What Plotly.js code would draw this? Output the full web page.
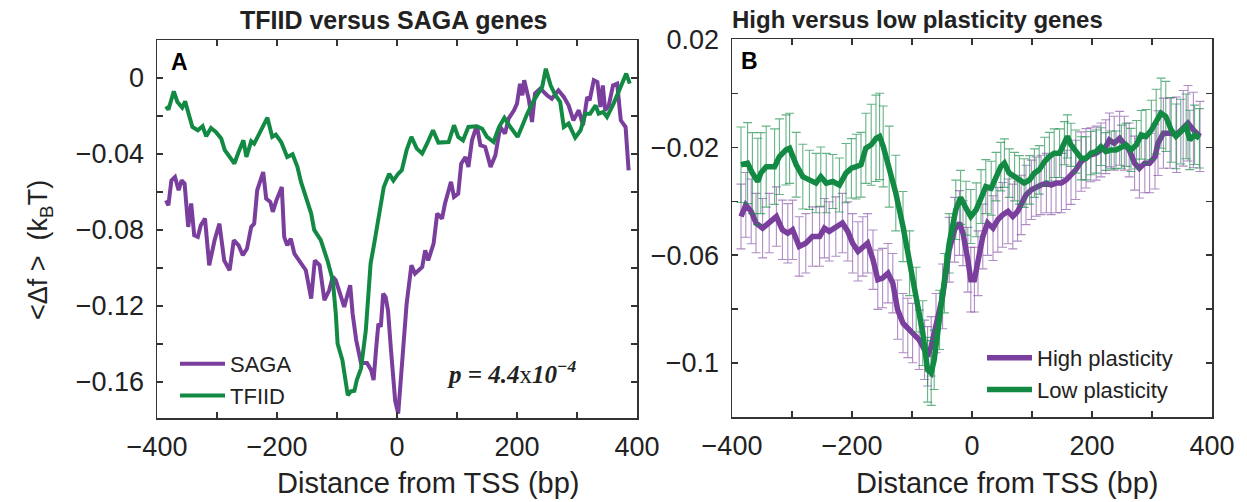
<!DOCTYPE html>
<html>
<head>
<meta charset="utf-8">
<script src="https://cdn.plot.ly/plotly-3.0.1.min.js"></script>
<style>
  html, body { margin: 0; padding: 0; background: #fff; }
  #chart { width: 1247px; height: 502px; }
</style>
</head>
<body>
<div id="chart"></div>
<script>
// ---------- Panel A: TFIID versus SAGA genes ----------
const tfiidX = [-385,-381,-372,-366,-358,-353,-349,-341,-332,-324,-318,-310,-302,-293,-287,-279,-271,-264,-256,-251,-243,-238,-233,-227,-216,-208,-202,-193,-183,-174,-166,-160,-152,-143,-138,-127,-116,-107,-102,-99,-91,-82,-77,-71,-67,-60,-52,-44,-38,-32,-22,-13,-6,2,8,16,24,33,42,50,60,69,86,95,102,110,119,133,142,150,161,170,179,189,201,208,217,228,236,242,248,256,264,272,278,286,297,306,314,322,331,336,344,350,361,372,382,388];
const tfiidY = [-0.0149,-0.0167,-0.007,-0.0126,-0.0156,-0.0123,-0.017,-0.0258,-0.0275,-0.0254,-0.0307,-0.0263,-0.0284,-0.0319,-0.038,-0.0412,-0.045,-0.039,-0.0328,-0.0416,-0.0333,-0.0346,-0.0314,-0.0272,-0.0209,-0.031,-0.0298,-0.0337,-0.0416,-0.0402,-0.0468,-0.0547,-0.0626,-0.0714,-0.080,-0.0854,-0.096,-0.1065,-0.124,-0.1398,-0.1486,-0.167,-0.165,-0.1647,-0.159,-0.153,-0.133,-0.0977,-0.0872,-0.0767,-0.0574,-0.0504,-0.054,-0.0504,-0.0486,-0.038,-0.031,-0.0372,-0.0398,-0.0346,-0.0275,-0.034,-0.0337,-0.0249,-0.031,-0.0328,-0.0258,-0.0254,-0.0267,-0.031,-0.0337,-0.0258,-0.021,-0.0258,-0.031,-0.0258,-0.0188,-0.0118,-0.0082,-0.0047,0.0049,-0.0039,-0.0091,-0.0126,-0.0258,-0.024,-0.0314,-0.0275,-0.0188,-0.0188,-0.0144,-0.0188,-0.0179,-0.0205,-0.0135,-0.0056,0.0023,-0.003];

const sagaX = [-385,-381,-376,-370,-364,-359,-354,-348,-343,-338,-332,-327,-320,-313,-304,-296,-288,-279,-272,-264,-257,-250,-243,-238,-233,-223,-218,-211,-207,-201,-192,-188,-183,-177,-171,-160,-152,-143,-137,-129,-121,-113,-107,-102,-93,-88,-82,-78,-74,-68,-60,-50,-43,-39,-35,-31,-27,-23,-19,-15,-10,-3,2,10,16,24,30,42,47,52,61,67,75,80,90,95,102,107,114,119,125,133,139,147,156,164,172,180,186,195,200,205,209,212,220,225,230,239,250,258,269,278,286,294,303,310,317,321,328,334,339,343,347,353,360,367,373,381,386];
const sagaY = [-0.0644,-0.067,-0.0539,-0.0521,-0.0591,-0.0539,-0.0556,-0.0784,-0.0661,-0.0828,-0.0837,-0.0775,-0.074,-0.0986,-0.0854,-0.0767,-0.096,-0.1012,-0.0854,-0.0881,-0.0933,-0.0898,-0.0784,-0.0767,-0.0591,-0.0495,-0.0635,-0.0653,-0.0705,-0.0644,-0.0574,-0.0837,-0.0881,-0.0846,-0.0925,-0.0977,-0.1012,-0.1161,-0.096,-0.0986,-0.117,-0.1118,-0.1047,-0.1065,-0.1153,-0.1205,-0.1135,-0.1091,-0.124,-0.138,-0.150,-0.150,-0.1539,-0.159,-0.1433,-0.1293,-0.131,-0.1135,-0.1153,-0.1223,-0.1433,-0.170,-0.1767,-0.1416,-0.119,-0.0986,-0.103,-0.0995,-0.0907,-0.096,-0.0872,-0.0714,-0.074,-0.0661,-0.0547,-0.0626,-0.0609,-0.0451,-0.0416,-0.0468,-0.0328,-0.0249,-0.0354,-0.0363,-0.0468,-0.0407,-0.0258,-0.0293,-0.0214,-0.017,-0.0135,-0.003,-0.0091,-0.0012,-0.0118,-0.0232,-0.0082,-0.0056,-0.0091,-0.0109,-0.0065,-0.01,-0.0144,-0.0223,-0.017,-0.0249,-0.01,-0.0118,-0.0012,-0.0021,-0.0153,-0.0039,-0.017,-0.0144,-0.0039,-0.003,-0.0223,-0.0258,-0.0486];

// ---------- Panel B: High versus low plasticity genes ----------
const highX = [-385,-377,-368,-360,-349,-338,-326,-316,-307,-299,-288,-277,-266,-254,-246,-238,-227,-216,-207,-199,-190,-182,-174,-165,-157,-149,-140,-132,-124,-115,-107,-99,-88,-79,-74,-68,-60,-49,-38,-29,-21,-15,-7,-2,4,10,18,26,35,43,51,60,68,76,82,90,99,107,115,124,132,140,149,157,165,173,182,190,198,207,215,223,229,237,246,254,262,271,279,288,296,305,310,319,330,341,352,360,369,380];
const highY = [-0.0457,-0.0414,-0.0438,-0.0481,-0.05,-0.0481,-0.0457,-0.0506,-0.0519,-0.0506,-0.0568,-0.0556,-0.0531,-0.0531,-0.05,-0.0512,-0.0494,-0.0481,-0.0512,-0.0556,-0.0586,-0.0568,-0.0556,-0.0617,-0.0691,-0.0685,-0.0667,-0.0704,-0.0802,-0.0852,-0.087,-0.0889,-0.0914,-0.0951,-0.0975,-0.0938,-0.0852,-0.0753,-0.058,-0.0506,-0.0481,-0.0519,-0.0617,-0.0691,-0.0691,-0.063,-0.0531,-0.0481,-0.05,-0.0469,-0.0451,-0.0438,-0.0457,-0.0438,-0.0414,-0.0377,-0.0358,-0.0346,-0.034,-0.0333,-0.034,-0.0333,-0.0333,-0.0321,-0.0302,-0.0284,-0.0253,-0.0241,-0.0228,-0.0222,-0.021,-0.0198,-0.0173,-0.0185,-0.0167,-0.0185,-0.021,-0.0259,-0.0278,-0.0259,-0.0259,-0.0235,-0.0185,-0.0148,-0.0148,-0.0154,-0.013,-0.0111,-0.0136,-0.016];
const highErr = [0.012,0.012,0.012,0.011,0.011,0.011,0.011,0.011,0.011,0.011,0.011,0.011,0.011,0.011,0.011,0.011,0.011,0.011,0.011,0.011,0.011,0.011,0.011,0.011,0.011,0.011,0.011,0.011,0.011,0.011,0.011,0.011,0.011,0.011,0.011,0.011,0.011,0.012,0.012,0.012,0.012,0.012,0.012,0.012,0.012,0.012,0.012,0.012,0.012,0.012,0.012,0.012,0.012,0.011,0.011,0.011,0.011,0.011,0.011,0.011,0.011,0.011,0.011,0.011,0.011,0.011,0.011,0.011,0.010,0.010,0.010,0.010,0.010,0.010,0.010,0.010,0.010,0.010,0.011,0.011,0.011,0.012,0.012,0.013,0.013,0.014,0.014,0.014,0.014,0.013];

const lowX = [-385,-374,-366,-357,-352,-343,-329,-321,-310,-304,-293,-282,-271,-260,-252,-243,-232,-221,-210,-201,-193,-185,-177,-168,-160,-154,-148,-138,-127,-115,-104,-93,-82,-74,-68,-63,-54,-46,-38,-27,-19,-10,-2,7,15,23,32,40,48,54,62,71,79,87,96,104,112,121,129,137,146,154,159,165,173,182,190,198,207,215,223,232,240,249,257,265,274,282,290,299,307,315,323,332,340,348,357,363,371,379];
const lowY = [-0.0265,-0.0259,-0.0296,-0.0327,-0.0296,-0.0272,-0.0272,-0.0235,-0.021,-0.0204,-0.0265,-0.0309,-0.0321,-0.0333,-0.0309,-0.0333,-0.0327,-0.034,-0.0296,-0.0278,-0.0272,-0.0265,-0.0204,-0.0191,-0.0167,-0.016,-0.0197,-0.0272,-0.037,-0.0494,-0.063,-0.0765,-0.0889,-0.1025,-0.1037,-0.0988,-0.084,-0.0704,-0.0556,-0.0432,-0.0386,-0.0426,-0.0457,-0.0432,-0.0383,-0.0346,-0.0352,-0.0309,-0.0272,-0.0259,-0.0296,-0.0309,-0.0321,-0.0333,-0.0321,-0.0296,-0.0284,-0.0253,-0.0235,-0.0222,-0.0222,-0.0185,-0.016,-0.0191,-0.0216,-0.0241,-0.0241,-0.0222,-0.0216,-0.0198,-0.0216,-0.021,-0.021,-0.0198,-0.0191,-0.021,-0.0191,-0.0154,-0.016,-0.0136,-0.0105,-0.0074,-0.0086,-0.0136,-0.016,-0.0142,-0.0123,-0.0173,-0.0154,-0.0167];
const lowErr = [0.014,0.015,0.015,0.016,0.015,0.015,0.014,0.014,0.013,0.013,0.012,0.012,0.011,0.011,0.011,0.011,0.010,0.010,0.011,0.011,0.012,0.012,0.013,0.015,0.016,0.016,0.015,0.015,0.014,0.013,0.012,0.012,0.012,0.012,0.012,0.011,0.011,0.011,0.011,0.011,0.010,0.010,0.010,0.010,0.010,0.010,0.010,0.009,0.009,0.009,0.009,0.009,0.009,0.009,0.009,0.009,0.009,0.009,0.009,0.009,0.009,0.008,0.008,0.008,0.008,0.008,0.008,0.008,0.008,0.007,0.007,0.007,0.007,0.008,0.008,0.008,0.009,0.009,0.010,0.011,0.012,0.013,0.013,0.012,0.012,0.012,0.012,0.011,0.011,0.011];

// ---------- Tick labels (labelled ticks; unlabelled minor ticks lie halfway) ----------
const xTickVals = [-400,-200,0,200,400];
const xTickText = ['\u2212400','\u2212200','0','200','400'];
const yATickVals = [-0.16,-0.12,-0.08,-0.04,0];
const yATickText = ['\u22120.16','\u22120.12','\u22120.08','\u22120.04','0'];
const yBTickVals = [-0.10,-0.06,-0.02,0.02];
const yBTickText = ['\u22120.1','\u22120.06','\u22120.02','0.02'];

const PURPLE = '#7a3f9d';
const GREEN = '#138a43';
const FONT = 'Liberation Sans, Arial, Helvetica, sans-serif';
const W = 1247, H = 502;
const px = v => v / W;
const py = v => 1 - v / H;

const traces = [
  { x: sagaX, y: sagaY, name: 'SAGA', type: 'scatter', mode: 'lines',
    line: { color: PURPLE, width: 4 }, xaxis: 'x', yaxis: 'y', legend: 'legend' },
  { x: tfiidX, y: tfiidY, name: 'TFIID', type: 'scatter', mode: 'lines',
    line: { color: GREEN, width: 4 }, xaxis: 'x', yaxis: 'y', legend: 'legend' },
  { x: highX, y: highY, name: 'High plasticity', type: 'scatter', mode: 'lines',
    line: { color: PURPLE, width: 5.5 },
    error_y: { type: 'data', array: highErr, visible: true, color: 'rgba(122,63,157,0.6)', thickness: 1.1, width: 4.5 },
    xaxis: 'x2', yaxis: 'y2', legend: 'legend2' },
  { x: lowX, y: lowY, name: 'Low plasticity', type: 'scatter', mode: 'lines',
    line: { color: GREEN, width: 5.5 },
    error_y: { type: 'data', array: lowErr, visible: true, color: 'rgba(19,138,67,0.65)', thickness: 1.1, width: 4.5 },
    xaxis: 'x2', yaxis: 'y2', legend: 'legend2' }
];

function axisBase(range, vals, text, minorStep, standoff) {
  return {
    range: range,
    tickmode: 'array', tickvals: vals, ticktext: text,
    ticks: 'inside', ticklen: 6, tickwidth: 1.3, tickcolor: '#333',
    minor: { dtick: minorStep, tick0: 0, ticks: 'inside', ticklen: 6, tickwidth: 1.3, tickcolor: '#333', showgrid: false },
    showline: true, linecolor: '#333', linewidth: 1.5, mirror: 'ticks',
    showgrid: false, zeroline: false, ticklabelstandoff: standoff,
    tickfont: { family: FONT, size: 27, color: '#222' }
  };
}

const layout = {
  width: W, height: H,
  margin: { l: 0, r: 0, t: 0, b: 0 },
  paper_bgcolor: '#fff', plot_bgcolor: '#fff',
  font: { family: FONT, color: '#222' },
  xaxis: Object.assign(axisBase([-400, 400], xTickVals, xTickText, 100, 4), { domain: [px(157), px(637)], anchor: 'y' }),
  yaxis: Object.assign(axisBase([-0.179, 0.02], yATickVals, yATickText, 0.02, 6), { domain: [py(418), py(40)], anchor: 'x' }),
  xaxis2: Object.assign(axisBase([-400, 400], xTickVals, xTickText, 100, 4), { domain: [px(732), px(1212)], anchor: 'y2' }),
  yaxis2: Object.assign(axisBase([-0.12, 0.02], yBTickVals, yBTickText, 0.02, 6), { domain: [py(417), py(39.3)], anchor: 'x2' }),
  showlegend: true,
  legend: { x: px(175), y: py(343), xanchor: 'left', yanchor: 'top', bgcolor: 'rgba(0,0,0,0)',
            font: { family: FONT, size: 22, color: '#222' }, itemwidth: 45, traceorder: 'normal' },
  legend2: { x: px(982), y: py(337), xanchor: 'left', yanchor: 'top', bgcolor: 'rgba(0,0,0,0)',
             font: { family: FONT, size: 22, color: '#222' }, itemwidth: 45, traceorder: 'normal' },
  annotations: [
    { text: '<b>TFIID versus SAGA genes</b>', xref: 'paper', yref: 'paper', x: px(394), y: py(20),
      xanchor: 'center', yanchor: 'middle', showarrow: false, font: { family: FONT, size: 25, color: '#222' } },
    { text: '<b>High versus low plasticity genes</b>', xref: 'paper', yref: 'paper', x: px(917), y: py(20),
      xanchor: 'center', yanchor: 'middle', showarrow: false, font: { family: FONT, size: 24, color: '#222' } },
    { text: '<b>A</b>', xref: 'paper', yref: 'paper', x: px(179), y: py(62),
      xanchor: 'center', yanchor: 'middle', showarrow: false, font: { family: FONT, size: 23, color: '#000' } },
    { text: '<b>B</b>', xref: 'paper', yref: 'paper', x: px(749), y: py(61),
      xanchor: 'center', yanchor: 'middle', showarrow: false, font: { family: FONT, size: 23, color: '#000' } },
    { text: '<b><i>p = 4.4</i></b>x<b><i>10<sup>\u22124</sup></i></b>', xref: 'paper', yref: 'paper', x: px(445), y: py(372),
      xanchor: 'left', yanchor: 'middle', showarrow: false, font: { family: 'Liberation Serif, Times New Roman, serif', size: 25, color: '#222' } },
    { text: 'Distance from TSS (bp)', xref: 'paper', yref: 'paper', x: px(428), y: py(483),
      xanchor: 'center', yanchor: 'middle', showarrow: false, font: { family: FONT, size: 29, color: '#222' } },
    { text: 'Distance from TSS (bp)', xref: 'paper', yref: 'paper', x: px(1007), y: py(483),
      xanchor: 'center', yanchor: 'middle', showarrow: false, font: { family: FONT, size: 29, color: '#222' } },
    { text: '<\u0394f >  (k<sub>B</sub>T)', xref: 'paper', yref: 'paper', x: px(40), y: py(250),
      xanchor: 'center', yanchor: 'middle', textangle: -90, showarrow: false, font: { family: FONT, size: 27, color: '#222' } }
  ]
};

Plotly.newPlot('chart', traces, layout, { displayModeBar: false, staticPlot: true });
</script>
</body>
</html>
